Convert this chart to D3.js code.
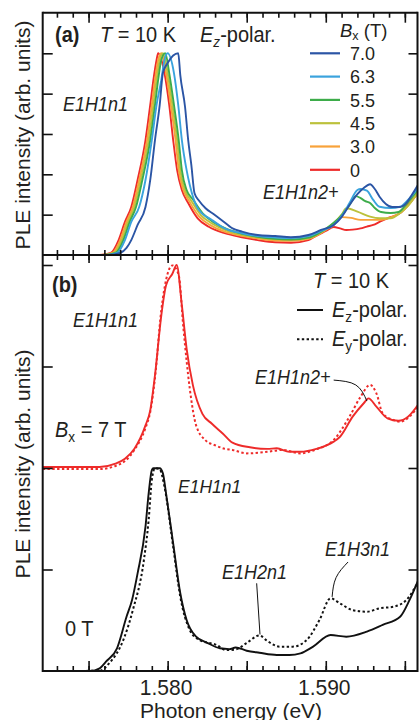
<!DOCTYPE html>
<html><head><meta charset="utf-8">
<script src="https://cdn.jsdelivr.net/npm/d3@7"></script>
<style>
html,body{margin:0;padding:0;background:#fff;}
svg{display:block;}
text{font-family:"Liberation Sans",Arial,Helvetica,sans-serif;fill:#231f20;}
</style></head><body>
<svg id="chart" width="419" height="720"></svg>
<script>
// ---------------- data ----------------
const energyDomain = [1.5721, 1.5958];
const xMinorTicks = [1.573,1.574,1.575,1.576,1.577,1.578,1.579,1.580,1.581,1.582,1.583,1.584,1.585,1.586,1.587,1.588,1.589,1.590,1.591,1.592,1.593,1.594,1.595];
const xMajorTicks = [1.575,1.580,1.585,1.590,1.595];
const xLabelValues = [1.580,1.590];
const xTickLabels = ["1.580","1.590"];
const yTicksA = [0.2,0.4,0.6,0.8,1.0];
const yTicksB = [0.5,1.0,1.5,2.0];

const fieldLabels = ["7.0","6.3","5.5","4.5","3.0","0"];
const fieldColors = ["#2b55a5","#3aa3dd","#3dac4a","#bcc13b","#f8a23a","#ee2b2a"];

// Panel (a): PLE spectra, Ez polarization, normalized (peak = 1)
const field7_0 = [[1.5721,0],[1.5763,0],[1.5770,0.010],[1.5774,0.035],[1.5777,0.074],[1.5781,0.149],[1.5786,0.238],[1.5789,0.372],[1.5792,0.570],[1.5795,0.744],[1.5797,0.902],[1.5800,0.952],[1.58067,1.0],[1.5808,0.892],[1.5811,0.735],[1.5813,0.570],[1.5815,0.446],[1.5817,0.306],[1.5820,0.268],[1.5824,0.232],[1.5829,0.203],[1.5834,0.174],[1.5841,0.132],[1.5847,0.116],[1.5857,0.099],[1.5868,0.094],[1.5878,0.088],[1.5889,0.099],[1.5897,0.124],[1.5905,0.149],[1.5910,0.188],[1.5915,0.248],[1.5920,0.302],[1.5924,0.332],[1.5928,0.351],[1.5931,0.327],[1.5934,0.289],[1.5938,0.253],[1.5942,0.238],[1.5947,0.238],[1.5951,0.258],[1.5954,0.293],[1.5959,0.357]];
const field6_3 = [[1.5721,0],[1.5761,0],[1.5768,0.010],[1.5773,0.074],[1.5777,0.164],[1.5782,0.238],[1.5786,0.372],[1.5790,0.570],[1.5793,0.744],[1.5796,0.868],[1.5798,0.967],[1.5800,1.0],[1.5804,0.902],[1.58067,0.744],[1.5809,0.570],[1.5812,0.421],[1.5814,0.347],[1.5819,0.232],[1.5828,0.174],[1.5836,0.132],[1.5847,0.108],[1.5857,0.094],[1.5868,0.087],[1.5878,0.084],[1.5889,0.094],[1.5897,0.119],[1.5905,0.149],[1.5911,0.203],[1.5915,0.258],[1.5920,0.322],[1.5922,0.327],[1.5926,0.319],[1.5930,0.273],[1.5934,0.239],[1.5941,0.233],[1.5947,0.239],[1.5952,0.273],[1.5959,0.339]];
const field5_5 = [[1.5721,0],[1.5760,0],[1.5767,0.010],[1.5772,0.074],[1.5776,0.164],[1.5780,0.238],[1.5784,0.372],[1.5789,0.570],[1.5792,0.744],[1.5794,0.868],[1.5796,0.967],[1.57985,1.0],[1.5801,0.902],[1.5804,0.744],[1.5807,0.570],[1.5809,0.421],[1.5812,0.322],[1.5816,0.275],[1.5822,0.208],[1.5829,0.163],[1.5838,0.127],[1.5848,0.104],[1.5857,0.090],[1.5868,0.080],[1.5878,0.077],[1.5889,0.086],[1.5895,0.106],[1.5900,0.130],[1.5905,0.160],[1.5909,0.188],[1.5915,0.248],[1.5919,0.292],[1.5922,0.282],[1.5925,0.267],[1.5928,0.258],[1.5931,0.233],[1.5935,0.213],[1.5941,0.208],[1.5946,0.213],[1.5950,0.243],[1.5959,0.332]];
const field4_5 = [[1.5721,0],[1.5759,0],[1.5766,0.010],[1.5771,0.074],[1.5775,0.164],[1.5779,0.238],[1.5783,0.372],[1.5788,0.570],[1.5791,0.744],[1.5793,0.868],[1.5795,0.967],[1.5797,1.0],[1.5800,0.902],[1.5803,0.744],[1.5806,0.570],[1.5808,0.421],[1.5811,0.322],[1.5815,0.268],[1.5821,0.198],[1.5828,0.156],[1.5837,0.122],[1.5847,0.100],[1.5857,0.088],[1.5868,0.078],[1.5878,0.076],[1.5889,0.084],[1.5895,0.104],[1.5900,0.128],[1.5905,0.158],[1.5910,0.200],[1.5913,0.232],[1.5920,0.215],[1.5928,0.190],[1.5934,0.182],[1.5941,0.182],[1.5947,0.208],[1.5952,0.243],[1.5959,0.322]];
const field3_0 = [[1.5721,0],[1.5758,0],[1.5765,0.010],[1.5770,0.074],[1.5774,0.164],[1.5778,0.238],[1.5782,0.372],[1.5787,0.570],[1.5790,0.744],[1.5792,0.868],[1.5794,0.967],[1.5796,1.0],[1.5799,0.902],[1.5802,0.744],[1.5805,0.570],[1.5807,0.421],[1.5810,0.322],[1.5814,0.262],[1.5820,0.190],[1.5827,0.148],[1.5836,0.116],[1.5847,0.095],[1.5857,0.082],[1.5868,0.072],[1.5878,0.070],[1.5889,0.080],[1.5895,0.100],[1.5900,0.124],[1.5905,0.150],[1.5910,0.188],[1.5916,0.184],[1.5922,0.174],[1.5930,0.174],[1.5934,0.174],[1.5941,0.186],[1.5947,0.208],[1.5952,0.245],[1.5959,0.315]];
const field0 = [[1.5721,0],[1.5757,0],[1.5764,0.010],[1.5769,0.074],[1.5773,0.164],[1.5777,0.238],[1.5781,0.372],[1.5786,0.570],[1.5789,0.744],[1.5791,0.868],[1.5793,0.967],[1.5794,1.0],[1.5798,0.902],[1.5801,0.744],[1.58035,0.570],[1.5806,0.421],[1.5809,0.322],[1.5813,0.258],[1.5819,0.182],[1.5826,0.140],[1.5836,0.108],[1.5847,0.088],[1.5857,0.074],[1.5868,0.063],[1.5878,0.061],[1.5889,0.074],[1.5893,0.091],[1.5900,0.119],[1.5905,0.139],[1.5909,0.132],[1.5913,0.124],[1.5917,0.126],[1.5922,0.132],[1.5926,0.141],[1.5930,0.149],[1.5934,0.164],[1.5939,0.182],[1.5943,0.193],[1.5947,0.208],[1.5952,0.248],[1.5959,0.315]];

// Panel (b): 7 T curves offset by +1, 0 T curves
const b7T_Ez = [[1.5721,1.005],[1.5757,1.005],[1.5767,1.021],[1.5773,1.046],[1.5779,1.095],[1.5786,1.210],[1.5789,1.284],[1.5792,1.457],[1.5796,1.752],[1.5799,1.900],[1.5803,1.957],[1.58057,2.0],[1.5809,1.801],[1.5812,1.588],[1.5816,1.407],[1.5822,1.267],[1.5828,1.218],[1.5835,1.169],[1.5841,1.125],[1.5852,1.102],[1.5863,1.094],[1.5869,1.097],[1.5877,1.080],[1.5884,1.080],[1.5894,1.094],[1.5905,1.130],[1.5909,1.154],[1.5917,1.253],[1.5924,1.319],[1.5927,1.343],[1.5932,1.302],[1.5939,1.245],[1.5946,1.233],[1.5952,1.253],[1.5959,1.319]];
const b7T_Ey = [[1.5721,0.995],[1.5757,0.995],[1.5767,1.010],[1.5773,1.034],[1.5779,1.089],[1.5786,1.197],[1.5789,1.276],[1.5792,1.443],[1.5796,1.778],[1.5799,1.926],[1.5803,1.998],[1.5807,1.951],[1.5810,1.686],[1.5814,1.391],[1.5818,1.210],[1.5824,1.136],[1.5830,1.112],[1.5836,1.095],[1.5841,1.089],[1.5850,1.072],[1.5863,1.080],[1.5873,1.089],[1.5884,1.072],[1.5894,1.092],[1.5905,1.138],[1.5915,1.253],[1.5922,1.351],[1.5928,1.409],[1.5932,1.368],[1.5936,1.269],[1.5943,1.236],[1.5947,1.228],[1.5953,1.253],[1.5959,1.310]];
const b0T_Ez = [[1.5721,0],[1.5751,0],[1.5757,0.013],[1.5761,0.046],[1.5768,0.112],[1.5774,0.267],[1.57775,0.35],[1.5781,0.481],[1.5786,0.711],[1.5788,0.875],[1.5790,0.990],[1.5791,0.999],[1.5795,0.999],[1.5797,0.974],[1.5799,0.875],[1.58035,0.629],[1.5808,0.383],[1.5812,0.251],[1.5818,0.169],[1.5825,0.139],[1.5833,0.112],[1.5839,0.108],[1.5843,0.116],[1.5850,0.100],[1.5858,0.090],[1.5869,0.079],[1.5877,0.079],[1.5884,0.087],[1.5892,0.120],[1.5903,0.177],[1.5913,0.169],[1.5926,0.194],[1.5936,0.227],[1.5947,0.267],[1.5953,0.350],[1.5959,0.457]];
const b0T_Ey = [[1.5721,0],[1.5757,0.001],[1.5763,0.038],[1.5772,0.153],[1.5778,0.300],[1.5785,0.547],[1.5788,0.744],[1.5790,0.941],[1.5792,0.999],[1.5795,0.993],[1.5798,0.908],[1.58035,0.612],[1.5808,0.366],[1.5814,0.202],[1.5820,0.153],[1.5831,0.128],[1.5837,0.103],[1.5843,0.106],[1.5850,0.138],[1.5858,0.175],[1.5863,0.148],[1.5871,0.120],[1.5879,0.120],[1.5888,0.153],[1.5896,0.251],[1.5903,0.358],[1.5909,0.333],[1.5917,0.300],[1.5926,0.292],[1.5934,0.309],[1.5943,0.317],[1.5951,0.350],[1.5959,0.448]];

// leader lines (data coordinates of panel b)
const leaderN2 = [[1.5905,1.433],[1.5919,1.409],[1.5926,1.330]];
const leaderH2 = [[1.58563,0.432],[1.58584,0.180]];
const leaderH3 = [[1.59141,0.537],[1.59065,0.46],[1.5904,0.365]];

// ---------------- layout ----------------
const F = {left:42.7, right:417.5, top:12.7, sep:255, topB:265, bottom:671};
const svg = d3.select("#chart");
const x = d3.scaleLinear().domain(energyDomain).range([F.left, F.right]);
const yA = d3.scaleLinear().domain([0, 1.2013]).range([F.sep, F.top]);
const yB = d3.scaleLinear().domain([0, 2]).range([F.bottom, F.topB]);

const defs = svg.append("defs");
defs.append("clipPath").attr("id","clipA").append("rect")
  .attr("x",F.left).attr("y",F.top).attr("width",F.right-F.left).attr("height",F.sep-F.top);
defs.append("clipPath").attr("id","clipB").append("rect")
  .attr("x",F.left).attr("y",F.sep+1).attr("width",F.right-F.left).attr("height",F.bottom-F.sep-1);

const lineA = d3.line().x(d=>x(d[0])).y(d=>yA(d[1])).curve(d3.curveMonotoneX);
const lineB = d3.line().x(d=>x(d[0])).y(d=>yB(d[1])).curve(d3.curveMonotoneX);

// panel (a) curves
const seriesA = [field0, field3_0, field4_5, field5_5, field6_3, field7_0];
const colorsA = [fieldColors[5],fieldColors[4],fieldColors[3],fieldColors[2],fieldColors[1],fieldColors[0]];
const gA = svg.append("g").attr("clip-path","url(#clipA)");
seriesA.forEach((s,i)=>{
  gA.append("path").attr("d",lineA(s)).attr("fill","none")
    .attr("stroke",colorsA[i]).attr("stroke-width",1.9).attr("stroke-linejoin","round");
});

// panel (b) curves
const gB = svg.append("g").attr("clip-path","url(#clipB)");
const red = "#ee2b2a";
gB.append("path").attr("d",lineB(b7T_Ey)).attr("fill","none").attr("stroke",red)
  .attr("stroke-width",2).attr("stroke-dasharray","2.4,2.4");
gB.append("path").attr("d",lineB(b7T_Ez)).attr("fill","none").attr("stroke",red)
  .attr("stroke-width",1.9).attr("stroke-linejoin","round");
gB.append("path").attr("d",lineB(b0T_Ey)).attr("fill","none").attr("stroke","#111")
  .attr("stroke-width",2).attr("stroke-dasharray","2.4,2.4");
gB.append("path").attr("d",lineB(b0T_Ez)).attr("fill","none").attr("stroke","#111")
  .attr("stroke-width",1.9).attr("stroke-linejoin","round");

// leader lines
const leader = d3.line().x(d=>x(d[0])).y(d=>yB(d[1])).curve(d3.curveNatural);
[leaderN2, leaderH2, leaderH3].forEach(l=>{
  svg.append("path").attr("d",leader(l)).attr("fill","none").attr("stroke","#111").attr("stroke-width",1);
});

// ---------------- axes ----------------
function clean(g){ g.select(".domain").remove(); g.selectAll("line").attr("stroke","#111").attr("stroke-width",1.6); g.selectAll("text").remove(); }
// top of (a)
svg.append("g").attr("transform",`translate(0,${F.top})`).call(d3.axisTop(x).tickValues(xMinorTicks).tickSize(-5)).call(clean);
svg.append("g").attr("transform",`translate(0,${F.top})`).call(d3.axisTop(x).tickValues(xMajorTicks).tickSize(-10)).call(clean);
// separator (cross ticks)
svg.append("g").attr("transform",`translate(0,${F.sep})`).call(d3.axisBottom(x).tickValues(xMinorTicks).tickSize(5)).call(clean);
svg.append("g").attr("transform",`translate(0,${F.sep})`).call(d3.axisBottom(x).tickValues(xMinorTicks).tickSize(-5)).call(clean);
svg.append("g").attr("transform",`translate(0,${F.sep})`).call(d3.axisBottom(x).tickValues(xMajorTicks).tickSize(8)).call(clean);
svg.append("g").attr("transform",`translate(0,${F.sep})`).call(d3.axisBottom(x).tickValues(xMajorTicks).tickSize(-10)).call(clean);
// bottom of (b)
svg.append("g").attr("transform",`translate(0,${F.bottom})`).call(d3.axisBottom(x).tickValues(xMinorTicks).tickSize(-5)).call(clean);
svg.append("g").attr("transform",`translate(0,${F.bottom})`).call(d3.axisBottom(x).tickValues(xMajorTicks).tickSize(-10)).call(clean);
const xl = svg.append("g").attr("transform",`translate(-2,${F.bottom})`)
  .call(d3.axisBottom(x).tickValues(xLabelValues).tickFormat((d,i)=>xTickLabels[i]).tickSize(0).tickPadding(0));
xl.select(".domain").remove();
xl.selectAll("text").attr("font-size",21).attr("y",0).attr("dy",null)
  .attr("transform","translate(0,24) scale(1,1.06)")
  .attr("font-family","Liberation Sans, Arial, sans-serif").attr("fill","#231f20");
// left/right
svg.append("g").attr("transform",`translate(${F.left},0)`).call(d3.axisLeft(yA).tickValues(yTicksA).tickSize(-10)).call(clean);
svg.append("g").attr("transform",`translate(${F.right},0)`).call(d3.axisRight(yA).tickValues(yTicksA).tickSize(-9)).call(clean);
svg.append("g").attr("transform",`translate(${F.left},0)`).call(d3.axisLeft(yB).tickValues(yTicksB).tickSize(-10)).call(clean);
svg.append("g").attr("transform",`translate(${F.right},0)`).call(d3.axisRight(yB).tickValues(yTicksB).tickSize(-9)).call(clean);

// frame
const fr = svg.append("g").attr("stroke","#111").attr("stroke-width",2).attr("fill","none");
fr.append("line").attr("x1",F.left).attr("x2",F.left).attr("y1",F.top-1).attr("y2",F.bottom+1);
fr.append("line").attr("x1",F.right).attr("x2",F.right).attr("y1",F.top-1).attr("y2",F.bottom+1);
fr.append("line").attr("x1",F.left).attr("x2",F.right).attr("y1",F.top).attr("y2",F.top);
fr.append("line").attr("x1",F.left).attr("x2",F.right).attr("y1",F.sep).attr("y2",F.sep);
fr.append("line").attr("x1",F.left).attr("x2",F.right).attr("y1",F.bottom).attr("y2",F.bottom);

// ---------------- text ----------------
const STRETCH = 1.08;
function txt(xp, yp, parts, size, opts={}){
  const t = svg.append("text").attr("x",0).attr("y",0).attr("font-size",size)
    .attr("transform", opts.transform || `translate(${xp},${yp}) scale(1,${opts.stretch||STRETCH})`);
  if(opts.anchor) t.attr("text-anchor",opts.anchor);
  if(opts.weight) t.attr("font-weight",opts.weight);
  const subShift = opts.subShift || 0.25;
  parts.forEach(p=>{
    const s = t.append("tspan").text(p.t);
    if(p.it) s.attr("font-style","italic");
    if(p.sub){ s.attr("font-size",size*0.68).attr("dy",size*subShift); }
    if(p.after) s.attr("dy",-size*subShift);
  });
  return t;
}
// panel (a)
txt(55, 42, [{t:"(a)"}], 20, {weight:"bold"});
txt(100, 42, [{t:"T",it:1},{t:" = 10 K"}], 20);
txt(200, 42, [{t:"E",it:1},{t:"z",it:1,sub:1},{t:"-polar.",after:1}], 20);
txt(340, 36.5, [{t:"B",it:1},{t:"x",sub:1},{t:" (T)",after:1}], 18.5, {subShift:0.16, stretch:1.02});
fieldLabels.forEach((lab,i)=>{
  const yy = 53.3 + i*23.3;
  svg.append("line").attr("x1",310).attr("x2",340).attr("y1",yy).attr("y2",yy)
    .attr("stroke",fieldColors[i]).attr("stroke-width",2.2);
  txt(350, yy+6.8, [{t:lab}], 18, {stretch:1.02});
});
txt(63, 111, [{t:"E1H1n1",it:1}], 18);
txt(263, 199, [{t:"E1H1n2+",it:1}], 18);

// panel (b)
txt(52, 292, [{t:"(b)"}], 20, {weight:"bold"});
txt(313, 288, [{t:"T",it:1},{t:" = 10 K"}], 20);
svg.append("line").attr("x1",297).attr("x2",323).attr("y1",310).attr("y2",310).attr("stroke","#111").attr("stroke-width",2);
txt(332, 317, [{t:"E",it:1},{t:"z",sub:1},{t:"-polar.",after:1}], 20);
svg.append("line").attr("x1",297).attr("x2",323).attr("y1",339.3).attr("y2",339.3).attr("stroke","#111").attr("stroke-width",2).attr("stroke-dasharray","2.4,2.4");
txt(332, 346, [{t:"E",it:1},{t:"y",sub:1},{t:"-polar.",after:1}], 20);
txt(73, 327, [{t:"E1H1n1",it:1}], 18);
txt(55, 437, [{t:"B",it:1},{t:"x",sub:1},{t:" = 7 T",after:1}], 20);
txt(255, 384, [{t:"E1H1n2+",it:1}], 18);
txt(178, 493, [{t:"E1H1n1",it:1}], 17.5);
txt(65, 636, [{t:"0 T"}], 20);
txt(222, 579, [{t:"E1H2n1",it:1}], 18);
txt(325, 556, [{t:"E1H3n1",it:1}], 18);

// axis titles
txt(0, 0, [{t:"PLE intensity (arb. units)"}], 21, {anchor:"middle", transform:"translate(30,135) rotate(-90)"});
txt(0, 0, [{t:"PLE intensity (arb. units)"}], 21, {anchor:"middle", transform:"translate(30,464) rotate(-90)"});
txt(231, 718, [{t:"Photon energy (eV)"}], 21, {anchor:"middle", stretch:1});
</script>
</body></html>
